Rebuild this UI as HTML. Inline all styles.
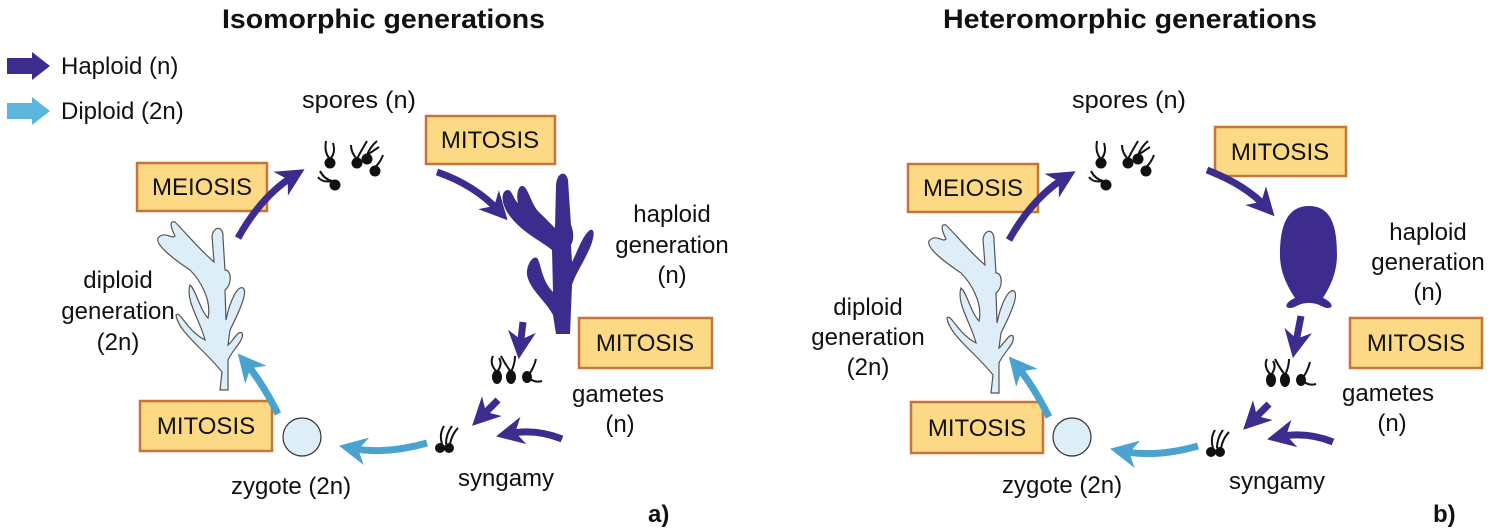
<!DOCTYPE html>
<html><head><meta charset="utf-8"><style>
html,body{margin:0;padding:0;background:#fff;}
svg{display:block;}
text{font-family:"Liberation Sans",Arial,sans-serif;fill:#111;}
.t{font-size:24px;}
.b{font-size:24px;font-weight:bold;}
.tt{font-size:27px;font-weight:bold;}
.bx{fill:#fbd985;stroke:#c8733a;stroke-width:2.5;}
.hp{fill:none;stroke:#3d2c8d;stroke-width:7;}
.dp{fill:none;stroke:#4aa2cf;stroke-width:7;}
</style></head><body>
<svg width="1496" height="531" viewBox="0 0 1496 531" xmlns="http://www.w3.org/2000/svg">
<defs>
<marker id="ah" viewBox="0 0 10 10" refX="6" refY="5" markerWidth="4" markerHeight="4" orient="auto" markerUnits="strokeWidth"><path d="M0,0 L10,5 L0,10 L3,5z" fill="#3d2c8d"/></marker>
<marker id="ac" viewBox="0 0 10 10" refX="6" refY="5" markerWidth="4" markerHeight="4" orient="auto" markerUnits="strokeWidth"><path d="M0,0 L10,5 L0,10 L3,5z" fill="#4aa2cf"/></marker>
<g id="spores" fill="#111">
 <circle cx="0" cy="0" r="5.5"/><path d="M0,-4 q-6,-6 -4,-18 M0,-4 q6,-6 3,-16" stroke="#111" stroke-width="2" fill="none"/>
 <circle cx="27" cy="0" r="5.5"/><path d="M27,-4 q-6,-6 -6,-14 M27,-4 q4,-8 10,-18" stroke="#111" stroke-width="2" fill="none"/>
 <circle cx="37" cy="-4" r="5.5"/><path d="M37,-8 q3,-8 10,-14 M37,-8 q6,-4 12,-8" stroke="#111" stroke-width="2" fill="none"/>
 <circle cx="45" cy="8" r="5.5"/><path d="M45,4 q5,-4 8,-12" stroke="#111" stroke-width="2" fill="none"/>
 <circle cx="5" cy="22" r="5.5"/><path d="M2,18 q-8,-2 -12,-10 M2,18 q-10,2 -14,-4" stroke="#111" stroke-width="2" fill="none"/>
</g>
<g id="gam" fill="#111">
 <ellipse cx="0" cy="0" rx="5" ry="7"/><path d="M0,-5 q-8,-8 -4,-16 M0,-5 q6,-8 2,-14" stroke="#111" stroke-width="2" fill="none"/>
 <ellipse cx="14" cy="0" rx="5" ry="7"/><path d="M14,-5 q-6,-8 -10,-16 M14,-5 q4,-8 4,-16" stroke="#111" stroke-width="2" fill="none"/>
 <ellipse cx="30" cy="0" rx="5" ry="6"/><path d="M33,-4 q4,-6 6,-14 M33,2 q6,4 12,2" stroke="#111" stroke-width="2" fill="none"/>
</g>
<g id="syn" fill="#111">
 <circle cx="0" cy="0" r="5"/><circle cx="9" cy="0" r="5"/>
 <path d="M2,-4 q-3,-10 2,-18 M6,-4 q0,-10 6,-18 M10,-4 q2,-10 8,-16" stroke="#111" stroke-width="2" fill="none"/>
</g>
<g id="dplant">
 <path d="M220,390 L222,372 C205,350 178,332 176,315 C180,310 186,330 205,340 C200,320 185,300 190,285 C196,290 200,310 208,318 C212,300 200,280 190,270 C175,260 155,245 158,238 C165,230 172,240 175,236 C172,230 168,220 175,222 C185,232 200,250 214,262 L212,236 C214,225 224,226 223,238 L225,270 C232,270 232,285 225,290 L226,320 C230,300 238,285 243,288 C248,292 240,310 230,330 L228,345 C234,340 238,330 242,333 C245,340 232,350 228,360 L228,390 Z" fill="#ddeef9" stroke="#555" stroke-width="1.2"/>
</g>
</defs>

<!-- Legend -->
<path d="M7,58 h25 v-6 l18,14 l-18,14 v-6 h-25z" fill="#3d2c8d"/>
<text x="61" y="74" class="t">Haploid (n)</text>
<path d="M7,103 h25 v-6 l18,14 l-18,14 v-6 h-25z" fill="#5ab6dc"/>
<text x="61" y="119" class="t">Diploid (2n)</text>

<!-- PANEL A -->
<text x="222" y="28" class="tt" textLength="323" lengthAdjust="spacingAndGlyphs">Isomorphic generations</text>
<text x="302" y="108" class="t" textLength="114" lengthAdjust="spacingAndGlyphs">spores (n)</text>
<use href="#spores" x="330" y="163"/>
<rect x="426" y="116" width="129" height="48" class="bx"/><text x="490" y="148" class="t" text-anchor="middle">MITOSIS</text>
<path d="M437,172 Q475,185 500,212" class="hp" marker-end="url(#ah)"/>
<path d="M556,334 L553,315 C545,300 530,290 527,275 C526,265 533,255 537,258 C541,262 541,280 553,292 L552,250 C540,240 520,232 507,212 C500,200 502,190 508,190 C512,190 514,200 518,203 C516,195 518,185 523,186 C528,188 530,200 537,210 C545,218 552,225 555,228 L556,185 C557,172 566,170 568,180 L571,225 C574,232 574,240 571,245 L572,262 C578,250 583,235 590,230 C596,228 594,240 588,252 C582,265 575,275 572,285 L570,334 Z" fill="#3d2c8d"/>
<text x="672" y="222" class="t" text-anchor="middle">haploid</text>
<text x="672" y="253" class="t" text-anchor="middle">generation</text>
<text x="672" y="283" class="t" text-anchor="middle">(n)</text>
<rect x="579" y="318" width="133" height="50" class="bx"/><text x="645" y="351" class="t" text-anchor="middle">MITOSIS</text>
<path d="M523,322 L520,348" class="hp" marker-end="url(#ah)"/>
<use href="#gam" x="497" y="377"/>
<text x="572" y="402" class="t">gametes</text>
<text x="620" y="432" class="t" text-anchor="middle">(n)</text>
<path d="M498,400 L480,418" class="hp" marker-end="url(#ah)"/>
<use href="#syn" x="440" y="448"/>
<path d="M562,439 Q535,428 507,434" class="hp" marker-end="url(#ah)"/>
<text x="458" y="486" class="t">syngamy</text>
<path d="M427,443 Q385,455 350,448" class="dp" marker-end="url(#ac)"/>
<circle cx="302" cy="437" r="19" fill="#ddeef9" stroke="#333" stroke-width="1.2"/>
<text x="231" y="494" class="t">zygote (2n)</text>
<rect x="140" y="401" width="132" height="50" class="bx"/><text x="206" y="434" class="t" text-anchor="middle">MITOSIS</text>
<path d="M278,414 Q262,382 245,362" class="dp" marker-end="url(#ac)"/>
<use href="#dplant"/>
<text x="118" y="288" class="t" text-anchor="middle">diploid</text>
<text x="118" y="319" class="t" text-anchor="middle">generation</text>
<text x="118" y="350" class="t" text-anchor="middle">(2n)</text>
<rect x="137" y="163" width="130" height="48" class="bx"/><text x="202" y="195" class="t" text-anchor="middle">MEIOSIS</text>
<path d="M238,238 Q262,195 295,175" class="hp" marker-end="url(#ah)"/>
<text x="648" y="522" class="b">a)</text>

<!-- PANEL B -->
<text x="943" y="28" class="tt" textLength="374" lengthAdjust="spacingAndGlyphs">Heteromorphic generations</text>
<text x="1072" y="108" class="t" textLength="114" lengthAdjust="spacingAndGlyphs">spores (n)</text>
<g transform="translate(771,0)">
<use href="#spores" x="330" y="163"/>
<rect x="444" y="127" width="131" height="49" class="bx"/><text x="509" y="160" class="t" text-anchor="middle">MITOSIS</text>
<path d="M436,170 Q475,185 496,208" class="hp" marker-end="url(#ah)"/>
<path d="M538,206 C514,206 509,230 509,255 C509,275 519,290 524,298 C516,301 512,308 519,308 C525,308 527,303 538,303 C549,303 551,308 557,308 C564,308 560,301 552,298 C557,290 566,275 566,255 C566,230 562,206 538,206 Z" fill="#3d2c8d"/>
<rect x="579" y="318" width="132" height="50" class="bx"/><text x="645" y="351" class="t" text-anchor="middle">MITOSIS</text>
<path d="M530,316 L524,347" class="hp" marker-end="url(#ah)"/>
<use href="#gam" x="500" y="380"/>
<path d="M498,404 L480,422" class="hp" marker-end="url(#ah)"/>
<use href="#syn" x="440" y="452"/>
<path d="M562,442 Q535,431 507,437" class="hp" marker-end="url(#ah)"/>
<path d="M427,446 Q385,458 350,451" class="dp" marker-end="url(#ac)"/>
<circle cx="301" cy="437" r="19" fill="#ddeef9" stroke="#333" stroke-width="1.2"/>
<rect x="140" y="402" width="132" height="51" class="bx"/><text x="206" y="436" class="t" text-anchor="middle">MITOSIS</text>
<path d="M278,417 Q262,385 245,365" class="dp" marker-end="url(#ac)"/>
<use href="#dplant" y="3"/>
<rect x="137" y="164" width="130" height="48" class="bx"/><text x="202" y="196" class="t" text-anchor="middle">MEIOSIS</text>
<path d="M238,240 Q262,197 295,177" class="hp" marker-end="url(#ah)"/>
</g>
<text x="1428" y="240" class="t" text-anchor="middle">haploid</text>
<text x="1428" y="270" class="t" text-anchor="middle">generation</text>
<text x="1428" y="300" class="t" text-anchor="middle">(n)</text>
<text x="1342" y="401" class="t">gametes</text>
<text x="1392" y="431" class="t" text-anchor="middle">(n)</text>
<text x="1229" y="489" class="t">syngamy</text>
<text x="1002" y="493" class="t">zygote (2n)</text>
<text x="868" y="315" class="t" text-anchor="middle">diploid</text>
<text x="868" y="345" class="t" text-anchor="middle">generation</text>
<text x="868" y="375" class="t" text-anchor="middle">(2n)</text>
<text x="1433" y="522" class="b">b)</text>
</svg>
</body></html>
